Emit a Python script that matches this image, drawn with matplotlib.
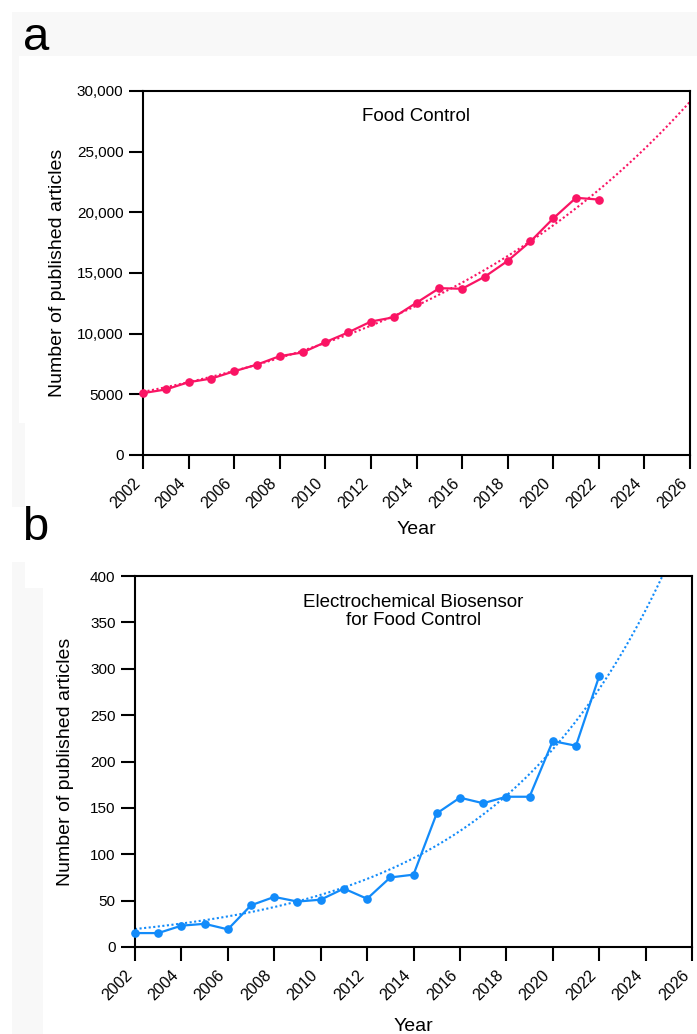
import numpy as np
import matplotlib
matplotlib.use("Agg")
import matplotlib.pyplot as plt
from matplotlib.patches import Rectangle

plt.rcParams['font.family'] = ['Liberation Sans', 'DejaVu Sans']

# ---------------- data ----------------
years = [2002, 2003, 2004, 2005, 2006, 2007, 2008, 2009, 2010, 2011, 2012,
         2013, 2014, 2015, 2016, 2017, 2018, 2019, 2020, 2021, 2022]
food_control = [5100, 5400, 6000, 6300, 6900, 7450, 8150, 8450, 9300, 10100, 11000,
                11350, 12550, 13750, 13700, 14700, 16000, 17600, 19500, 21200, 21050]
biosensor = [15, 15, 23, 25, 19, 45, 54, 49, 51, 63, 52,
             75, 78, 144, 161, 155, 162, 162, 222, 217, 292]

x_ticks = [2002, 2004, 2006, 2008, 2010, 2012, 2014, 2016, 2018, 2020, 2022, 2024, 2026]
ya_ticks = [0, 5000, 10000, 15000, 20000, 25000, 30000]
ya_labels = ['0', '5000', '10,000', '15,000', '20,000', '25,000', '30,000']
yb_ticks = [0, 50, 100, 150, 200, 250, 300, 350, 400]

title_a = "Food Control"
title_b = "Electrochemical Biosensor\nfor Food Control"

pink = '#FA1464'
blue = '#128BFA'


def exp_fit(x, y):
    """Least-squares fit of y = A*exp(k*(x - x0))."""
    x = np.asarray(x, float)
    y = np.asarray(y, float)
    t = x - x[0]
    best = None
    for k in np.linspace(0.0, 0.4, 40001):
        e = np.exp(k * t)
        A = np.sum(y * e) / np.sum(e * e)
        sse = np.sum((y - A * e) ** 2)
        if best is None or sse < best[0]:
            best = (sse, A, k)
    return best[1], best[2]


fig = plt.figure(figsize=(6.97, 10.34), dpi=100)

# faint background blocks
W, H = 697.0, 1034.0
def frect(x0, y0, x1, y1):
    fig.patches.append(Rectangle((x0 / W, 1 - y1 / H), (x1 - x0) / W, (y1 - y0) / H,
                                 transform=fig.transFigure, color='#f8f8f8', zorder=-10, lw=0))
frect(12, 12, 697, 56)
frect(12, 56, 19, 423)
frect(12, 423, 25, 507)
frect(12, 562, 25, 588)
frect(12, 588, 43, 1034)


def style(ax, xt, yt, ylabels, ylim, xlab_y, ylab_x):
    ax.set_xlim(2002, 2026)
    ax.set_ylim(*ylim)
    ax.set_xticks(xt)
    ax.set_xticklabels([str(v) for v in xt], rotation=45, ha='right', va='top',
                       rotation_mode='default')
    ax.set_yticks(yt)
    ax.set_yticklabels(ylabels)
    for s in ax.spines.values():
        s.set_linewidth(1.5)
    ax.tick_params(axis='both', direction='out', length=10, width=1.5, pad=4)
    ax.tick_params(axis='x', labelsize=11.5, pad=5)
    ax.tick_params(axis='y', labelsize=11)
    ax.set_xlabel('Year', fontsize=14, va='center')
    ax.xaxis.set_label_coords(0.5, xlab_y)
    ax.set_ylabel('Number of published articles', fontsize=14, va='center')
    ax.yaxis.set_label_coords(ylab_x, 0.5)


def draw(ax, y, color):
    A, k = exp_fit(years, y)
    xf = np.linspace(2002, 2026, 400)
    ax.plot(xf, A * np.exp(k * (xf - years[0])), ls=(0, (1, 1.2)), lw=1.5,
            color=color, zorder=2)
    ax.plot(years, y, '-o', color=color, lw=1.6, ms=5.2, zorder=3, clip_on=False)


# panel a
ax1 = fig.add_axes([143 / W, 1 - 455 / H, (690 - 143) / W, (455 - 91) / H])
draw(ax1, food_control, pink)
style(ax1, x_ticks, ya_ticks, ya_labels, (0, 30000), -0.206, -0.157)
ax1.text(0.5, 0.93, title_a, transform=ax1.transAxes, ha='center', va='center',
         fontsize=13.5)

# panel b
ax2 = fig.add_axes([135 / W, 1 - 947 / H, (692 - 135) / W, (947 - 576) / H])
draw(ax2, biosensor, blue)
style(ax2, x_ticks, yb_ticks, [str(v) for v in yb_ticks], (0, 400), -0.213, -0.124)
ax2.text(0.5, 0.905, title_b, transform=ax2.transAxes, ha='center', va='center',
         fontsize=13.5, linespacing=1.05)

fig.text(36 / W, 1 - 38 / H, 'a', fontsize=34, ha='center', va='center')
fig.text(35 / W, 1 - 528 / H, 'b', fontsize=34, ha='center', va='center')

fig.savefig('out.png', dpi=100)
